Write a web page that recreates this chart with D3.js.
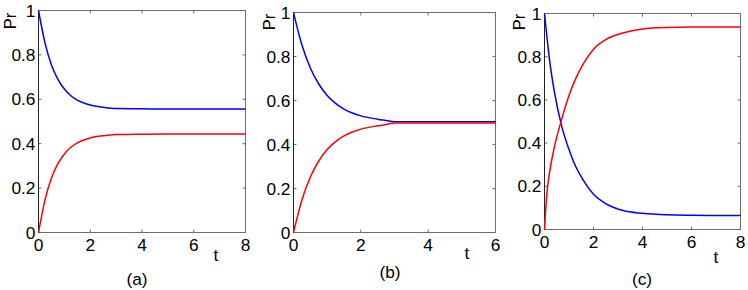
<!DOCTYPE html>
<html>
<head>
<meta charset="utf-8">
<script src="https://cdn.jsdelivr.net/npm/d3@7"></script>
<style>
html,body{margin:0;padding:0;background:#fff;}
svg{display:block;}
text{font-family:"Liberation Sans",Arial,Helvetica,sans-serif;fill:#000;}
</style>
</head>
<body>
<svg id="chart" width="748" height="290"></svg>
<script>
// ---- data ----
const tA    = [0, 0.25, 0.5, 0.75, 1, 1.25, 1.5, 1.75, 2, 2.5, 3, 4, 5, 6, 7, 8];
const blueA = [1, 0.854, 0.755, 0.690, 0.646, 0.616, 0.596, 0.583, 0.574, 0.564, 0.558, 0.557, 0.556, 0.556, 0.556, 0.556];
const redA  = [0, 0.146, 0.245, 0.310, 0.354, 0.384, 0.404, 0.417, 0.426, 0.436, 0.441, 0.443, 0.444, 0.444, 0.444, 0.444];

const tB    = [0, 0.25, 0.5, 0.75, 1, 1.25, 1.5, 1.75, 2, 2.5, 2.75, 3, 4, 5, 6];
const blueB = [1, 0.852, 0.748, 0.675, 0.623, 0.587, 0.561, 0.543, 0.530, 0.515, 0.509, 0.503, 0.503, 0.503, 0.503];
const redB  = [0, 0.148, 0.252, 0.325, 0.377, 0.413, 0.439, 0.457, 0.470, 0.485, 0.491, 0.498, 0.498, 0.498, 0.498];

const tC    = [0, 0.1, 0.2, 0.4, 0.7, 1.0, 1.2, 1.6, 2.0, 2.5, 3.2, 4, 5, 6, 7, 8];
const blueC = [1, 0.89, 0.79, 0.64, 0.48, 0.37, 0.31, 0.225, 0.163, 0.12, 0.088, 0.075, 0.068, 0.066, 0.065, 0.065];
const redC  = [0, 0.17, 0.26, 0.38, 0.51, 0.62, 0.68, 0.77, 0.835, 0.879, 0.91, 0.928, 0.935, 0.937, 0.937, 0.937];

const xTicksA = [0, 2, 4, 6, 8];
const xTicksB = [0, 2, 4, 6];
const xTicksC = [0, 2, 4, 6, 8];
const yTicks  = [0, 0.2, 0.4, 0.6, 0.8, 1];
const yTickLabels = ["0", "0.2", "0.4", "0.6", "0.8", "1"];
const panelLabels = ["(a)", "(b)", "(c)"];
const xTitle = "t";
const yTitle = "Pr";

// ---- layout ----
const panels = [
  {t: tA, blue: blueA, red: redA, xmax: 8, xt: xTicksA, label: panelLabels[0],
   L: 38.5, R: 245.5, T: 10.5, B: 232.5, tx: 216, ty: 261, px: 137, py: 285, prx: 16, pry: 21, xly: 251},
  {t: tB, blue: blueB, red: redB, xmax: 6, xt: xTicksB, label: panelLabels[1],
   L: 293.5, R: 495.5, T: 12.5, B: 232.5, tx: 467, ty: 259, px: 390, py: 278, prx: 275, pry: 22, xly: 251},
  {t: tC, blue: blueC, red: redC, xmax: 8, xt: xTicksC, label: panelLabels[2],
   L: 544.5, R: 740.5, T: 13.5, B: 229.5, tx: 716, ty: 263, px: 642, py: 285, prx: 525, pry: 22, xly: 248}
];

const svg = d3.select("#chart");
const FS = 16.5, SX = 1.05;
const frameColor = "#6e6e6e";

function addText(g, x, y, str, anchor, rot) {
  return g.append("text")
    .attr("transform", `translate(${x},${y})` + (rot ? ` rotate(${rot})` : "") + ` scale(${rot ? 1 : SX},1)`)
    .attr("text-anchor", anchor)
    .attr("font-size", FS)
    .text(str);
}

panels.forEach(p => {
  const g = svg.append("g");
  const x = d3.scaleLinear().domain([0, p.xmax]).range([p.L, p.R]);
  const y = d3.scaleLinear().domain([0, 1]).range([p.B, p.T]);

  // frame
  g.append("rect").attr("x", p.L).attr("y", p.T)
    .attr("width", p.R - p.L).attr("height", p.B - p.T)
    .attr("fill", "none").attr("stroke", frameColor).attr("stroke-width", 1);

  // inward ticks
  p.xt.forEach(v => {
    g.append("line").attr("x1", x(v)).attr("x2", x(v)).attr("y1", p.B).attr("y2", p.B - 3).attr("stroke", frameColor);
    g.append("line").attr("x1", x(v)).attr("x2", x(v)).attr("y1", p.T).attr("y2", p.T + 3).attr("stroke", frameColor);
  });
  yTicks.forEach(v => {
    g.append("line").attr("x1", p.L).attr("x2", p.L + 3).attr("y1", y(v)).attr("y2", y(v)).attr("stroke", frameColor);
    g.append("line").attr("x1", p.R).attr("x2", p.R - 3).attr("y1", y(v)).attr("y2", y(v)).attr("stroke", frameColor);
  });

  // left axis line darker
  g.append("line").attr("x1", p.L).attr("x2", p.L).attr("y1", p.T).attr("y2", p.B).attr("stroke", "#222");

  // curves
  const line = d3.line().x(d => x(d[0])).y(d => y(d[1])).curve(d3.curveMonotoneX);
  g.append("path").datum(p.t.map((tv, i) => [tv, p.blue[i]]))
    .attr("d", line).attr("fill", "none").attr("stroke", "#0000ff").attr("stroke-width", 1.5);
  g.append("path").datum(p.t.map((tv, i) => [tv, p.red[i]]))
    .attr("d", line).attr("fill", "none").attr("stroke", "#ff0000").attr("stroke-width", 1.5);

  // tick labels
  p.xt.forEach(v => addText(g, x(v), p.xly, String(v), "middle"));
  yTicks.forEach((v, i) => addText(g, p.L - 3, y(v) + 6, yTickLabels[i], "end"));

  // titles
  addText(g, p.tx, p.ty, xTitle, "middle");
  addText(g, p.prx, p.pry, yTitle, "middle", -90);
  addText(g, p.px, p.py, p.label, "middle");
});
</script>
</body>
</html>
